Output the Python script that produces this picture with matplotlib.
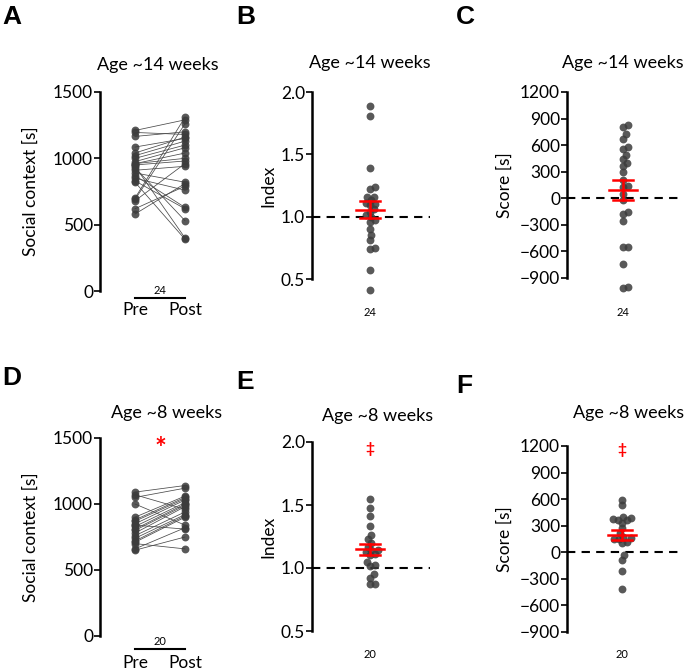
import numpy as np
import matplotlib
matplotlib.use('Agg')
import matplotlib.pyplot as plt
import matplotlib.transforms as mtransforms

plt.rcParams['font.family'] = ['Lato', 'DejaVu Sans']

# ---- data ----
pre_14 = [700, 690, 680, 580, 620, 1210, 1195, 1165, 1085, 1040, 1020, 1000,
          975, 960, 960, 950, 940, 930, 910, 890, 870, 850, 830, 820]
post_14 = [1310, 1260, 960, 810, 790, 1290, 1180, 1200, 1150, 1160, 1130, 1100,
           1080, 1040, 1000, 980, 400, 530, 940, 820, 630, 760, 620, 390]
index_14 = [1.89, 1.81, 1.39, 1.24, 1.22, 1.16, 1.155, 1.13, 1.11, 1.10, 1.09, 1.06,
            1.035, 1.01, 0.995, 0.97, 0.955, 0.90, 0.85, 0.81, 0.75, 0.74, 0.57, 0.41]
score_14 = [825, 800, 725, 675, 580, 555, 490, 440, 400, 365, 300, 205, 140, 130,
            50, -20, -160, -180, -260, -545, -550, -740, -1000, -1010]

pre_8 = [1090, 1070, 1050, 1000, 900, 880, 870, 850, 840, 830, 810, 800, 780,
         760, 740, 720, 710, 700, 660, 650]
post_8 = [1140, 960, 1120, 840, 1060, 1050, 1040, 1030, 810, 1010, 1000, 990, 980,
          940, 920, 910, 900, 660, 820, 750]
index_8 = [1.55, 1.48, 1.41, 1.33, 1.26, 1.23, 1.20, 1.17, 1.145, 1.125, 1.11, 1.10,
           1.045, 1.025, 1.015, 0.95, 0.92, 0.875, 0.875, 1.14]
score_8 = [590, 530, 400, 390, 380, 370, 330, 270, 220, 175, 150, 145, 120, 100,
           360, 160, -30, -85, -210, -410]

W, H = 685, 670
DOT = '#3c3c3c'


def add_ax(fig, left, top, right, bottom):
    return fig.add_axes([left / W, 1 - bottom / H, (right - left) / W, (bottom - top) / H])


def style(ax):
    for s in ['top', 'right', 'bottom']:
        ax.spines[s].set_visible(False)
    ax.spines['left'].set_linewidth(1.8)
    ax.tick_params(axis='y', length=4, width=1.2, labelsize=12.5, pad=1)
    ax.set_xticks([])
    ax.patch.set_visible(False)


def swarm(ax, vals, d):
    y = ax.transData.transform(np.column_stack([np.zeros(len(vals)), vals]))[:, 1]
    offs = np.zeros(len(vals))
    placed = []
    for i in np.argsort(y):
        for k in range(80):
            cand = ((k + 1) // 2) * (1 if k % 2 else -1) * 0.5
            if all((cand - px) ** 2 + (y[i] - py) ** 2 >= d ** 2 for px, py in placed):
                break
        offs[i] = cand
        placed.append((cand, y[i]))
    return offs


def paired(fig, box, pre, post, n, lab_dy, star=False):
    ax = add_ax(fig, *box)
    style(ax)
    ax.set_xlim(-0.7, 1.5)
    ax.set_ylim(0, 1500)
    ax.set_yticks([0, 500, 1000, 1500])
    for a, b in zip(pre, post):
        ax.plot([0, 1], [a, b], color='#4a4a4a', lw=0.55, zorder=1)
    ax.scatter(np.zeros(len(pre)), pre, s=32, color=DOT, alpha=0.85, lw=0, zorder=2)
    ax.scatter(np.ones(len(post)), post, s=32, color=DOT, alpha=0.85, lw=0, zorder=2)
    tr = mtransforms.blended_transform_factory(ax.transData, ax.transAxes)
    hpx = box[3] - box[1]
    yb = -lab_dy / hpx
    ax.plot([0, 1], [yb, yb], color='black', lw=1.5, transform=tr, clip_on=False)
    ax.text(0.5, yb + 2.0 / hpx, str(n), transform=tr, ha='center', va='bottom', fontsize=8)
    ax.set_xticks([0, 1])
    ax.set_xticklabels(['Pre', 'Post'], fontsize=12.5)
    ax.tick_params(axis='x', length=0, pad=lab_dy + 1)
    ax.set_ylabel('Social context [s]', fontsize=12.5)
    ax.yaxis.set_label_coords(-0.56, 0.5)
    if star:
        ax.text(0.5, 1420, '*', color='red', fontsize=20, fontweight='bold',
                ha='center', va='center')
    return ax


def dots(fig, box, center, vals, ylim, yticks, ylabel, n, n_y, ref, lab_x, dagger=None):
    ax = add_ax(fig, *box)
    style(ax)
    ax.set_xlim(box[0] - center, box[2] - center)
    ax.set_ylim(*ylim)
    ax.set_yticks(yticks)
    if isinstance(yticks[0], float):
        ax.set_yticklabels(['%.1f' % t for t in yticks])
    ax.axhline(ref, color='black', lw=1.5, dashes=(4, 3), zorder=1)
    v = np.array(vals, dtype=float)
    ax.scatter(swarm(ax, v, 5), v, s=32, color=DOT, alpha=0.85, lw=0, zorder=2,
               clip_on=False)
    m = v.mean()
    sem = v.std(ddof=1) / np.sqrt(len(v))
    ax.plot([-14, 14], [m, m], color='red', lw=1.8, zorder=3)
    ax.plot([0, 0], [m - sem, m + sem], color='red', lw=1.8, zorder=3)
    for e in (m - sem, m + sem):
        ax.plot([-10, 10], [e, e], color='red', lw=1.8, zorder=3)
    ax.text(0, -(n_y - box[3]) / (box[3] - box[1]), str(n), fontsize=8, ha='center', va='center',
            transform=mtransforms.blended_transform_factory(ax.transData, ax.transAxes))
    ax.set_ylabel(ylabel, fontsize=12.5)
    ax.yaxis.set_label_coords((lab_x - box[0]) / (box[2] - box[0]), 0.5)
    if dagger is not None:
        ax.text(0, dagger, '\u2021', color='red', fontsize=11, fontweight='bold',
                ha='center', va='center', clip_on=False)
    return ax


fig = plt.figure(figsize=(W / 100, H / 100), dpi=100)

paired(fig, (100, 92, 210, 291), pre_14, post_14, 24, 7)
dots(fig, (312, 92, 430, 279), 370, index_14, (0.5, 2.0), [0.5, 1.0, 1.5, 2.0],
     'Index', 24, 313, 1.0, 276)
dots(fig, (567, 92, 683, 278), 623, score_14, (-900, 1200),
     [-900, -600, -300, 0, 300, 600, 900, 1200], 'Score [s]', 24, 313, 0, 513)

paired(fig, (100, 438, 210, 636), pre_8, post_8, 20, 13, star=True)
dots(fig, (312, 442, 430, 631), 370, index_8, (0.5, 2.0), [0.5, 1.0, 1.5, 2.0],
     'Index', 20, 655, 1.0, 276, dagger=1.944)
dots(fig, (567, 446, 683, 632), 622, score_8, (-900, 1200),
     [-900, -600, -300, 0, 300, 600, 900, 1200], 'Score [s]', 20, 654, 0, 513, dagger=1160)

titles = [(158, 65, 'Age ~14 weeks'), (370, 63, 'Age ~14 weeks'), (623, 63, 'Age ~14 weeks'),
          (167, 413, 'Age ~8 weeks'), (378, 416, 'Age ~8 weeks'), (629, 413, 'Age ~8 weeks')]
for x, y, t in titles:
    fig.text(x / W, 1 - y / H, t, ha='center', va='center', fontsize=13)

letters = [(2, 5, 'A'), (236, 5, 'B'), (456, 5, 'C'),
           (2, 366, 'D'), (236, 370, 'E'), (456, 374, 'F')]
for x, y, t in letters:
    fig.text(x / W, 1 - y / H, t, ha='left', va='top', fontsize=19, fontweight='bold',
             family=['Liberation Sans', 'DejaVu Sans'])

fig.savefig('out.png', dpi=100)
